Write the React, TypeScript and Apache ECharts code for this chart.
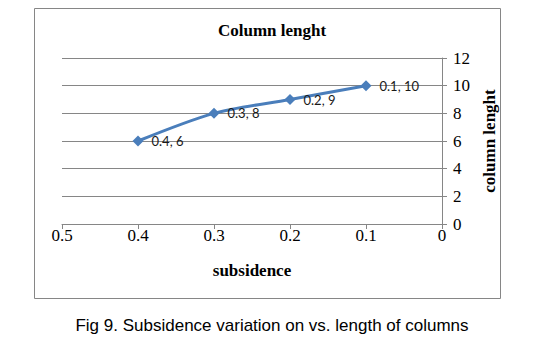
import React, { useEffect, useRef } from "react";
import * as echarts from "echarts";

const subsidence = [0.4, 0.3, 0.2, 0.1];
const columnLength = [6, 8, 9, 10];
const chartTitle = "Column lenght";
const xName = "subsidence";
const yName = "column lenght";
const caption = "Fig 9. Subsidence variation on vs. length of columns";

export default function App() {
  const ref = useRef<HTMLDivElement>(null);
  useEffect(() => {
    if (!ref.current) return;
    const chart = echarts.init(ref.current, null, { renderer: "svg" });
    const serif = "'Liberation Serif', 'Times New Roman', serif";
    chart.setOption({
      animation: false,
      backgroundColor: "#ffffff",
      title: [
        {
          text: chartTitle,
          left: 267,
          top: 17,
          textAlign: "center",
          textStyle: { fontFamily: serif, fontWeight: "bold", fontSize: 17, color: "#000" },
        },
        {
          text: caption,
          left: 267,
          top: 312,
          textAlign: "center",
          textStyle: { fontFamily: "'Liberation Sans', Arial, sans-serif", fontWeight: "normal", fontSize: 17, color: "#000" },
        },
      ],
      graphic: [
        {
          type: "rect",
          shape: { x: 34.5, y: 8.5, width: 466, height: 290 },
          style: { fill: "none", stroke: "#868686", lineWidth: 1 },
          silent: true,
        },
      ],
      grid: { left: 62, right: 99, top: 58, bottom: 135 },
      xAxis: {
        type: "value",
        min: 0,
        max: 0.5,
        interval: 0.1,
        inverse: true,
        name: xName,
        nameLocation: "middle",
        nameGap: 38,
        nameTextStyle: { fontFamily: serif, fontWeight: "bold", fontSize: 17, color: "#000" },
        axisLine: { show: true, lineStyle: { color: "#868686" } },
        axisTick: { show: true, length: 5, lineStyle: { color: "#868686" } },
        axisLabel: { fontFamily: serif, fontSize: 17, color: "#000", margin: 3 },
        splitLine: { show: false },
      },
      yAxis: {
        type: "value",
        position: "right",
        min: 0,
        max: 12,
        interval: 2,
        name: yName,
        nameLocation: "middle",
        nameGap: 38,
        nameRotate: 90,
        nameTextStyle: { fontFamily: serif, fontWeight: "bold", fontSize: 17, color: "#000" },
        axisLine: { show: true, lineStyle: { color: "#868686" } },
        axisTick: { show: true, length: 5, lineStyle: { color: "#868686" } },
        axisLabel: { fontFamily: serif, fontSize: 17, color: "#000", margin: 11 },
        splitLine: { show: true, lineStyle: { color: "#868686", width: 1 } },
      },
      series: [
        {
          type: "line",
          data: subsidence.map((x, i) => [x, columnLength[i]]),
          smooth: 0.3,
          symbol: "diamond",
          symbolSize: 11,
          lineStyle: { color: "#4a7ebb", width: 3 },
          itemStyle: { color: "#4a7ebb" },
          label: {
            show: true,
            position: "right",
            distance: 8,
            fontFamily: "Lato, 'Open Sans', sans-serif",
            fontSize: 13,
            color: "#1a1a1a",
            formatter: (p: any) => `${p.value[0]}, ${p.value[1]}`,
          },
        },
      ],
    });
    return () => chart.dispose();
  }, []);
  return <div ref={ref} style={{ position: "absolute", left: 0, top: 0, width: 541, height: 359 }} />;
}
